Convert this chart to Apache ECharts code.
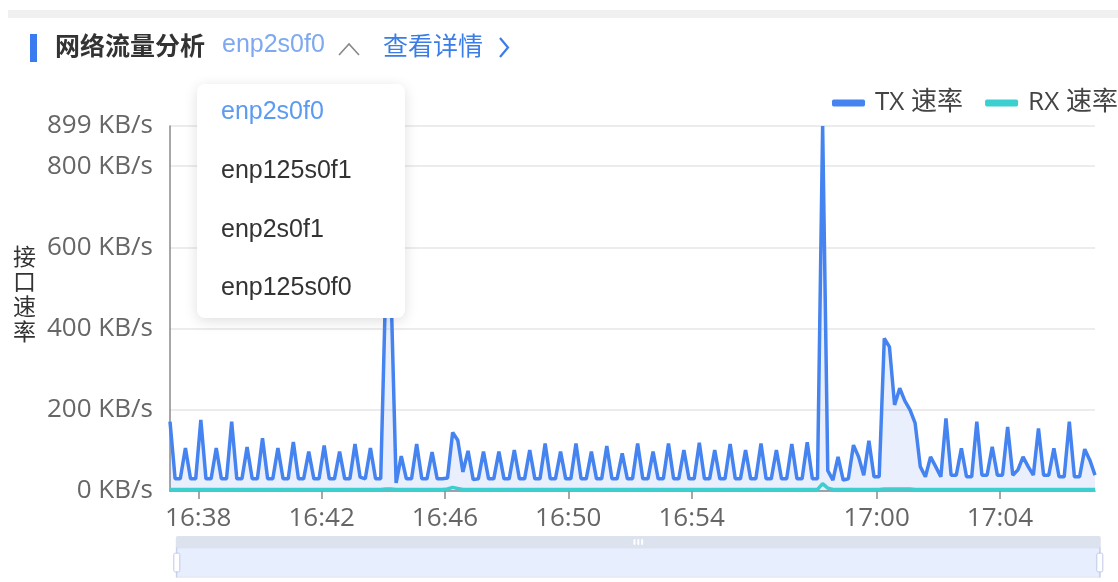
<!DOCTYPE html>
<html>
<head>
<meta charset="utf-8">
<script src="https://cdn.jsdelivr.net/npm/echarts@6/dist/echarts.min.js"></script>
<style>
html,body{margin:0;padding:0;background:#fff;}
#chart{width:1118px;height:582px;}
</style>
</head>
<body>
<div id="chart"></div>
<script>
// ---- data ----
const startTime = [16, 37, 5];     // first sample (HH, mm, ss)
const stepSeconds = 10;            // sampling step
const seriesNames = ['TX 速率', 'RX 速率'];
const interfaces = ['enp2s0f0', 'enp125s0f1', 'enp2s0f1', 'enp125s0f0'];
const axisName = '接口速率';
const txRate = [
  171,30,30,106,30,30,175,30,30,106,30,30,171,30,30,108,30,30,130,30,
  30,106,30,30,121,30,30,97,30,30,112,30,30,97,30,30,116,34,30,106,
  30,30,520,500,20,86,30,30,116,30,30,96,30,30,32,144,125,47,99,28,
  30,97,30,30,97,30,30,101,30,30,101,30,30,117,30,30,97,30,30,117,
  30,30,97,30,30,111,30,30,93,30,30,117,30,30,97,30,30,117,30,30,
  101,30,30,119,30,30,101,30,30,116,30,30,101,30,30,117,30,30,101,30,
  30,116,30,30,120,30,30,899,50,27,84,27,30,113,84,39,124,35,35,376,
  355,212,253,222,200,167,60,35,84,60,35,179,39,39,105,35,35,171,39,39,
  109,39,39,158,39,52,84,60,39,154,39,39,105,35,35,171,35,35,103,76,
  39
];
const rxRate = [
  4,4,4,4,4,4,4,4,4,4,4,4,4,4,4,4,4,4,4,4,
  4,4,4,4,4,4,4,4,4,4,4,4,4,4,4,4,4,4,4,4,
  4,4,5,5,4,4,4,4,4,4,4,4,4,4,5,9,6,4,4,4,
  4,4,4,4,4,4,4,4,4,4,4,4,4,4,4,4,4,4,4,4,
  4,4,4,4,4,4,4,4,4,4,4,4,4,4,4,4,4,4,4,4,
  4,4,4,4,4,4,4,4,4,4,4,4,4,4,4,4,4,4,4,4,
  4,4,4,4,4,4,4,18,7,4,4,4,4,4,4,4,4,4,4,5,
  5,5,5,5,5,4,4,4,4,4,4,4,4,4,4,4,4,4,4,4,
  4,4,4,4,4,4,4,4,4,4,4,4,4,4,4,4,4,4,4,4,
  4
];
const yTickStep = 200;

// ---- build ----
const base = new Date(2024, 0, 1, startTime[0], startTime[1], startTime[2]).getTime();
const times = txRate.map((_, i) => base + i * stepSeconds * 1000);
const txData = txRate.map((v, i) => [times[i], v]);
const rxData = rxRate.map((v, i) => [times[i], v]);

const FONT = '"Open Sans","Noto Sans CJK SC",sans-serif';
const CJK = '"Noto Sans CJK SC",sans-serif';
const ARIAL = '"Liberation Sans",Arial,sans-serif';
const BLUE = '#4584f0';
const TEAL = '#3dcfcf';

const chart = echarts.init(document.getElementById('chart'));
const dropdownItems = interfaces.map((name, i) => ({
  type: 'text', left: 221, top: 100 + i * 58.7, z: 101,
  style: { text: name, font: '25px ' + ARIAL, fill: i === 0 ? '#5b9bf0' : '#333' }
}));

chart.setOption({
  animation: false,
  textStyle: { fontFamily: FONT },
  grid: { left: 170, right: 23, top: 126, bottom: 91, containLabel: false },
  legend: {
    data: seriesNames, left: 827, top: 85, width: 500,
    icon: 'roundRect', itemWidth: 33, itemHeight: 7, itemGap: 22,
    textStyle: { fontSize: 26, color: '#444', fontFamily: FONT, padding: [0, 0, 0, 5] }
  },
  xAxis: {
    type: 'time', splitNumber: 10,
    axisLine: { show: true, lineStyle: { color: '#8a8a8a', width: 1.5 } },
    axisTick: { show: true, length: 8, lineStyle: { color: '#8a8a8a', width: 1.5 } },
    axisLabel: { formatter: '{HH}:{mm}', fontSize: 26, color: '#666', margin: 15, fontFamily: FONT, hideOverlap: true },
    splitLine: { show: false }
  },
  yAxis: {
    type: 'value', min: 0, max: 'dataMax', interval: yTickStep,
    axisLine: { show: true, lineStyle: { color: '#8a8a8a', width: 1.5 } },
    axisTick: { show: false },
    axisLabel: { formatter: '{value} KB/s', fontSize: 26, color: '#666', margin: 17, fontFamily: FONT },
    splitLine: { lineStyle: { color: '#e6e6e6', width: 1.5 } }
  },
  dataZoom: [{
    type: 'slider', xAxisIndex: 0, start: 0, end: 100,
    left: 171, right: 22, bottom: 16, height: 30,
    moveHandleSize: 12, showDataShadow: false, showDetail: false,
    moveHandleStyle: { color: '#dce2ee', opacity: 1 }
  }],
  series: [
    {
      name: seriesNames[0], type: 'line', data: txData, showSymbol: false, symbol: 'none',
      lineStyle: { color: BLUE, width: 3.5 }, itemStyle: { color: BLUE },
      areaStyle: { color: 'rgba(67,120,230,0.17)' }
    },
    {
      name: seriesNames[1], type: 'line', data: rxData, showSymbol: false, symbol: 'none',
      lineStyle: { color: TEAL, width: 3.5 }, itemStyle: { color: TEAL }
    }
  ],
  graphic: [
    { type: 'rect', left: 8, top: 10, z: 50, shape: { width: 1110, height: 8 }, style: { fill: '#f0f0f0' } },
    { type: 'rect', left: 30, top: 34, z: 50, shape: { width: 7, height: 28 }, style: { fill: '#3a7bf0' } },
    { type: 'text', left: 55, top: 33, z: 50, style: { text: '网络流量分析', font: 'bold 25px ' + CJK, fill: '#333' } },
    { type: 'text', left: 222, top: 33, z: 50, style: { text: interfaces[0], font: '25px ' + ARIAL, fill: '#7ea9f0' } },
    { type: 'polyline', z: 50, shape: { points: [[339, 55], [349, 44], [359, 55]] }, style: { stroke: '#888', lineWidth: 1.6, fill: null } },
    { type: 'text', left: 383, top: 33, z: 50, style: { text: '查看详情', font: '25px ' + CJK, fill: '#3b7de6' } },
    { type: 'polyline', z: 50, shape: { points: [[500, 38], [508, 47.5], [500, 57]] }, style: { stroke: '#3b7de6', lineWidth: 2.2, fill: null } },
    { type: 'text', left: 13, top: 244, z: 50, style: { text: axisName.split('').join('\n'), font: '23px ' + CJK, lineHeight: 25, fill: '#333' } },
    {
      type: 'rect', left: 197, top: 84, z: 100,
      shape: { width: 208, height: 234, r: 8 },
      style: { fill: '#fff', shadowBlur: 14, shadowColor: 'rgba(0,0,0,0.13)', shadowOffsetY: 3 }
    },
    ...dropdownItems
  ]
});
</script>
</body>
</html>
